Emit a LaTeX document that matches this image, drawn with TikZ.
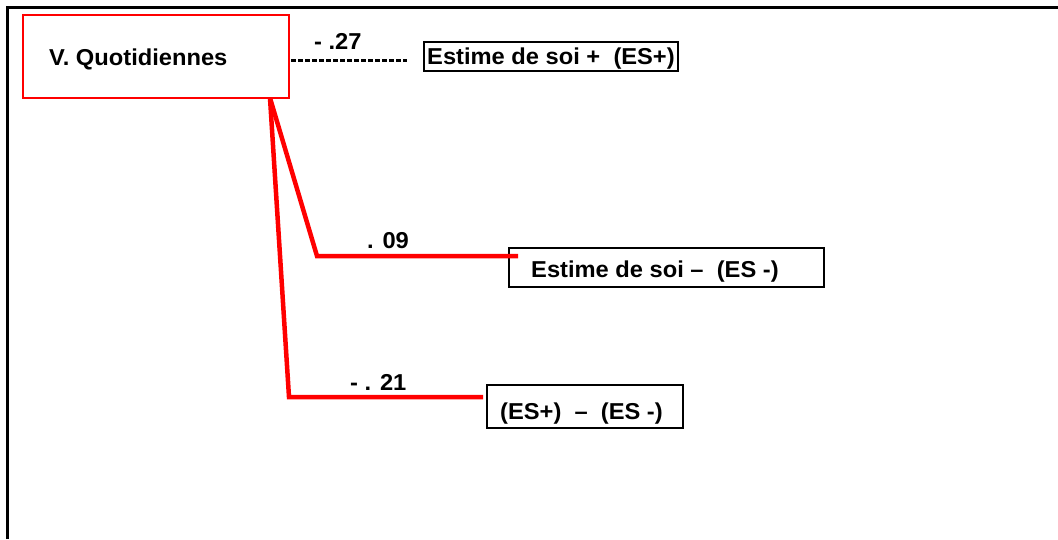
\documentclass[tikz,border=0pt]{standalone}
\usepackage{fontspec}
\setmainfont{Liberation Sans}[FakeStretch=1.03]
\begin{document}
\begin{tikzpicture}[x=1pt,y=-1pt,
  txt/.style={font=\fontsize{23}{26}\selectfont\bfseries, inner sep=0pt, anchor=base west},
  redbox/.style={draw=red, line width=2pt, minimum width=266pt, minimum height=83pt, inner sep=0pt},
  blackbox/.style={draw=black, line width=2.2pt, inner sep=0pt},
  redline/.style={draw=red, line width=4.5pt, line join=miter},
  dashline/.style={draw=black, line width=3pt, dash pattern=on 5pt off 2pt}]
\useasboundingbox (0,0) rectangle (1058,539);
% outer frame
\draw[line width=3pt] (7,539) -- (7,7) -- (1058,7);
% boxes
\node[redbox] (vq) at (156,56.5) {};
\node[blackbox, minimum width=254pt, minimum height=29pt] (esp) at (551,56.5) {};
\node[blackbox, minimum width=315pt, minimum height=39pt] (esm) at (666.5,267.5) {};
\node[blackbox, minimum width=196pt, minimum height=43pt] (dif) at (585,406.5) {};
% texts
\node[txt] (tvq) at (49,65) {V. Quotidiennes};
\node[txt] (tesp) at (427,64.5) {Estime de soi +\ \ (ES+)};
\node[txt] (tesm) at (531,277) {Estime de soi –\ \ (ES -)};
\node[txt] (tdif) at (500,419) {(ES+)\ \ –\ \ (ES -)};
\node[txt] (l27) at (314,49) {- .27};
\node[txt] (l09) at (367,248) {. 09};
\node[txt] (l21) at (350,390) {- . 21};
% connector coordinates
\coordinate (o) at (270,98);
\coordinate (k1) at (317,256);
\coordinate (e1) at (518,256);
\coordinate (k2) at (289,397);
\coordinate (e2) at (483,397);
\coordinate (d0) at (291,60);
\coordinate (d1) at (407,60);
% connectors
\draw[redline] (o) -- (k1) -- (e1);
\draw[redline] (o) -- (k2) -- (e2);
\draw[dashline] (d0) -- (d1);
\end{tikzpicture}
\end{document}
